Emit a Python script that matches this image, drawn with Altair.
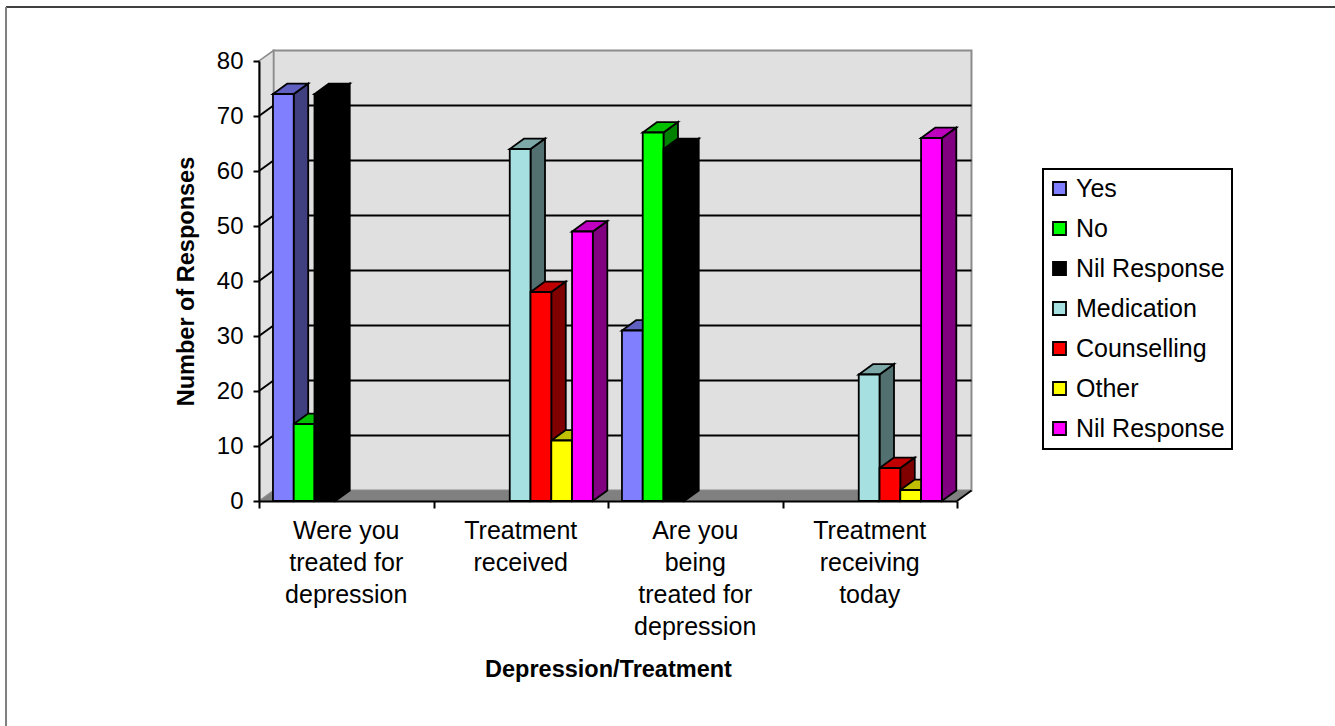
import altair as alt
import pandas as pd

# Survey responses per question; None means the answer option does not apply.
categories = [
    "Were you\ntreated for\ndepression",
    "Treatment\nreceived",
    "Are you\nbeing\ntreated for\ndepression",
    "Treatment\nreceiving\ntoday",
]
# The second "Nil Response" carries a trailing space so it stays a separate legend entry.
series = ["Yes", "No", "Nil Response", "Medication", "Counselling", "Other", "Nil Response "]
yes = [74, None, 31, None]
no = [14, None, 67, None]
nil_a = [74, None, 64, None]
medication = [None, 64, None, 23]
counselling = [None, 38, None, 6]
other = [None, 11, None, 2]
nil_b = [None, 49, None, 66]
columns = [yes, no, nil_a, medication, counselling, other, nil_b]
y_ticks = [0, 10, 20, 30, 40, 50, 60, 70, 80]
x_ticks = [0, 1, 2, 3, 4]
grid_values = [10, 20, 30, 40, 50, 60, 70]

front_colors = ["#8080FF", "#00FF00", "#000000", "#A6E0E0", "#FF0000", "#FFFF00", "#FF00FF"]
side_colors = ["#404080", "#008000", "#000000", "#537070", "#800000", "#808000", "#800080"]
top_colors = ["#6060C0", "#00C000", "#000000", "#7CA8A8", "#C00000", "#C0C000", "#C000C0"]

# Oblique projection of the chart depth, expressed in axis units.
DEPTH_X = 0.083
DEPTH_Y = 1.9
SLOT = 0.119
GAP = 0.08
FONT = "Liberation Sans"

x_scale = alt.Scale(domain=[0, 4], nice=False, zero=False)
y_scale = alt.Scale(domain=[0, 80], nice=False, zero=False)

x_axis = alt.Axis(
    values=x_ticks,
    labels=False,
    grid=False,
    tickSize=7,
    tickWidth=2,
    tickColor="#000000",
    domainColor="#000000",
    domainWidth=2,
    title="Depression/Treatment",
    titleFont=FONT,
    titleFontSize=23.5,
    titleFontWeight="bold",
    titleColor="#000000",
    titleY=168,
    titleBaseline="middle",
    zindex=1,
)
y_axis = alt.Axis(
    values=y_ticks,
    grid=False,
    tickSize=6,
    tickWidth=2,
    tickColor="#000000",
    domainColor="#000000",
    domainWidth=2,
    labelFont=FONT,
    labelFontSize=24,
    labelColor="#000000",
    labelPadding=10,
    title="Number of Responses",
    titleFont=FONT,
    titleFontSize=23.5,
    titleFontWeight="bold",
    titleColor="#000000",
    titlePadding=18,
    zindex=1,
)

fronts, sides, tops = [], [], []
for s, (name, col) in enumerate(zip(series, columns)):
    for c, v in enumerate(col):
        if v is None:
            continue
        l = c + GAP + s * SLOT
        r = l + SLOT
        key = f"{c}-{s}"
        fronts.append({"series": name, "l": l, "r": r, "v": v, "base": 0})
        sides += [
            {"bar": key, "fill": side_colors[s], "x": r, "y": v, "y2": 0},
            {"bar": key, "fill": side_colors[s], "x": r + DEPTH_X, "y": v + DEPTH_Y, "y2": DEPTH_Y},
        ]
        tops += [
            {"bar": key, "fill": top_colors[s], "y": v, "x": l, "x2": r},
            {"bar": key, "fill": top_colors[s], "y": v + DEPTH_Y, "x": l + DEPTH_X, "x2": r + DEPTH_X},
        ]

X = alt.X("x:Q", scale=x_scale, axis=x_axis)
Y = alt.Y("y:Q", scale=y_scale, axis=y_axis)

# Chart frame
frame_top = alt.Chart(pd.DataFrame({"k": [0]})).mark_rule(color="#000000", strokeWidth=1.5).encode(
    x=alt.value(-253), x2=alt.value(1076), y=alt.value(-54)
)
frame_left = alt.Chart(pd.DataFrame({"k": [0]})).mark_rule(color="#808080", strokeWidth=2).encode(
    x=alt.value(-253), y=alt.value(-54), y2=alt.value(665)
)

# Back wall, floor and left wall of the box
back_wall = alt.Chart(pd.DataFrame({"x": [DEPTH_X], "x2": [4 + DEPTH_X], "y": [DEPTH_Y], "y2": [80 + DEPTH_Y]})).mark_rect(
    fill="#E0E0E0", stroke="#8C8C8C", strokeWidth=2
).encode(x=X, x2="x2:Q", y=Y, y2="y2:Q")

floor = alt.Chart(pd.DataFrame({"y": [0, DEPTH_Y], "x": [0, DEPTH_X], "x2": [4, 4 + DEPTH_X]})).mark_area(
    orient="horizontal", fill="#808080"
).encode(x=X, x2="x2:Q", y=Y)

left_wall = alt.Chart(pd.DataFrame({"x": [0, DEPTH_X], "y": [0, DEPTH_Y], "y2": [80, 80 + DEPTH_Y]})).mark_area(
    orient="vertical", fill="#E0E0E0", stroke="#8C8C8C", strokeWidth=1.5
).encode(x=X, y=Y, y2="y2:Q")

back_grid = alt.Chart(pd.DataFrame({
    "x": [DEPTH_X] * len(grid_values),
    "x2": [4 + DEPTH_X] * len(grid_values),
    "y": [v + DEPTH_Y for v in grid_values],
})).mark_rule(color="#000000", strokeWidth=2).encode(x=X, x2="x2:Q", y=Y)

slanted = []
for v in grid_values:
    slanted += [{"g": v, "x": 0, "y": v}, {"g": v, "x": DEPTH_X, "y": v + DEPTH_Y}]
slanted += [{"g": 80, "x": 4, "y": 0}, {"g": 80, "x": 4 + DEPTH_X, "y": DEPTH_Y}]
side_grid = alt.Chart(pd.DataFrame(slanted)).mark_line(color="#000000", strokeWidth=2).encode(
    x=X, y=Y, detail="g:N"
)

# Bars: side faces, then top faces, then the fronts with the legend
side_faces = alt.Chart(pd.DataFrame(sides)).mark_area(
    orient="vertical", stroke="#000000", strokeWidth=1.8
).encode(x=X, y=Y, y2="y2:Q", detail="bar:N", fill=alt.Fill("fill:N", scale=None))

top_faces = alt.Chart(pd.DataFrame(tops)).mark_area(
    orient="horizontal", stroke="#000000", strokeWidth=1.8
).encode(x=X, x2="x2:Q", y=Y, detail="bar:N", fill=alt.Fill("fill:N", scale=None))

front_faces = alt.Chart(pd.DataFrame(fronts)).mark_rect(stroke="#000000", strokeWidth=1.8).encode(
    x=alt.X("l:Q", scale=x_scale, axis=x_axis),
    x2="r:Q",
    y=alt.Y("v:Q", scale=y_scale, axis=y_axis),
    y2="base:Q",
    fill=alt.Fill(
        "series:N",
        scale=alt.Scale(domain=series, range=front_colors),
        sort=series,
        legend=alt.Legend(
            title=None,
            orient="none",
            legendX=784,
            legendY=108,
            fillColor="#FFFFFF",
            strokeColor="#000000",
            padding=7,
            symbolType="square",
            symbolSize=170,
            symbolOffset=-3,
            symbolStrokeColor="#000000",
            symbolStrokeWidth=1.8,
            labelFont=FONT,
            labelFontSize=25,
            labelColor="#000000",
            labelOffset=4,
            rowPadding=14,
            labelLimit=300,
        ),
    ),
)

category_labels = alt.Chart(pd.DataFrame({
    "x": [i + 0.5 for i in range(len(categories))],
    "y": [0] * len(categories),
    "label": categories,
})).mark_text(
    font=FONT, fontSize=25, color="#000000", lineBreak="\n", lineHeight=32,
    baseline="top", align="center", dy=18,
).encode(x=X, y=Y, text="label:N")

chart = alt.layer(
    frame_top, frame_left, back_wall, floor, left_wall, back_grid, side_grid,
    side_faces, top_faces, front_faces, category_labels,
).resolve_scale(fill="independent").properties(
    width=698,
    height=440,
    padding={"left": 259, "top": 61, "right": 378, "bottom": 225},
    autosize=alt.AutoSizeParams(type="none"),
    background="#FFFFFF",
).configure_view(stroke=None).configure_legend(strokeWidth=2)

chart.save("out.html", embed_options={"renderer": "svg", "actions": False})
